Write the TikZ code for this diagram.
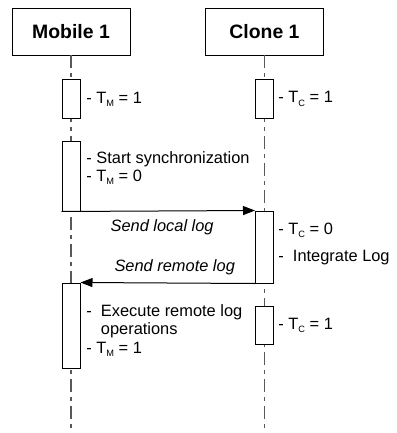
\documentclass[tikz,border=0pt]{standalone}
\usepackage{fontspec}
\setmainfont{Liberation Sans}
\usetikzlibrary{arrows.meta}
\newcommand{\sbs}[1]{\raisebox{-1.6pt}{\fontsize{4.6}{5}\selectfont #1}}
\newcommand{\TM}{T\sbs{M}}
\newcommand{\TC}{T\sbs{C}}

\begin{document}
\begin{tikzpicture}[x=0.5pt,y=-0.5pt,
  head/.style={draw,minimum width=59pt,minimum height=23.5pt,inner sep=0,font=\fontsize{9.7}{11}\selectfont\bfseries},
  life/.style={draw=black!65,line width=0.55pt,dash pattern=on 6.5pt off 2.5pt on 2pt off 2.5pt},
  act/.style={draw,fill=white,minimum width=9pt,inner sep=0,line width=0.5pt},
  note/.style={anchor=west,inner sep=0,align=left,font=\fontsize{8.2}{9.2}\selectfont},
  lbl/.style={inner sep=0,font=\fontsize{8.2}{9.2}\selectfont\itshape},
  msg/.style={line width=0.5pt,-{Triangle[length=6pt,width=4.5pt]}}]
\useasboundingbox (0,0) rectangle (396,433);
% lifeline heads
\node[head] (mob) at (71,31.5) {Mobile 1};
\node[head] (cln) at (264.5,31.5) {Clone 1};
\coordinate (mobend) at (71,433);
\coordinate (clnend) at (264.5,433);
\draw[life] (mob.south) -- (mobend);
\draw[life] (cln.south) -- (clnend);
% activations
\node[act,minimum height=19pt] (m1) at (71,99) {};
\node[act,minimum height=19pt] (c1) at (264.5,99) {};
\node[act,minimum height=35pt] (m2) at (71,176) {};
\node[act,minimum height=36pt] (c2) at (264.5,247) {};
\node[act,minimum height=42.5pt] (m3) at (71,325.5) {};
\node[act,minimum height=19pt] (c3) at (264.5,325) {};
% notes
\node[note] (n1) at (86,99) {- \TM{} = 1};
\node[note] (n2) at (278,99) {- \TC{} = 1};
\node[note] (n3) at (86,168) {- Start synchronization\\- \TM{} = 0};
\node[note] (n4) at (278,244) {- \TC{} = 0\\[4.5pt]-\ \ Integrate Log};
\node[note] (n5) at (86,330.5) {-\ \ Execute remote log\\\phantom{-\ \ }operations\\- \TM{} = 1};
\node[note] (n6) at (278,325) {- \TC{} = 1};
% messages
\draw[msg] (m2.south west) -- node[lbl,below=4pt,pos=0.52] (s1) {Send local log} (c2.north west);
\draw[msg] (c2.south west) -- node[lbl,above=4pt,pos=0.46] (s2) {Send remote log} (m3.north east);
\end{tikzpicture}
\end{document}
